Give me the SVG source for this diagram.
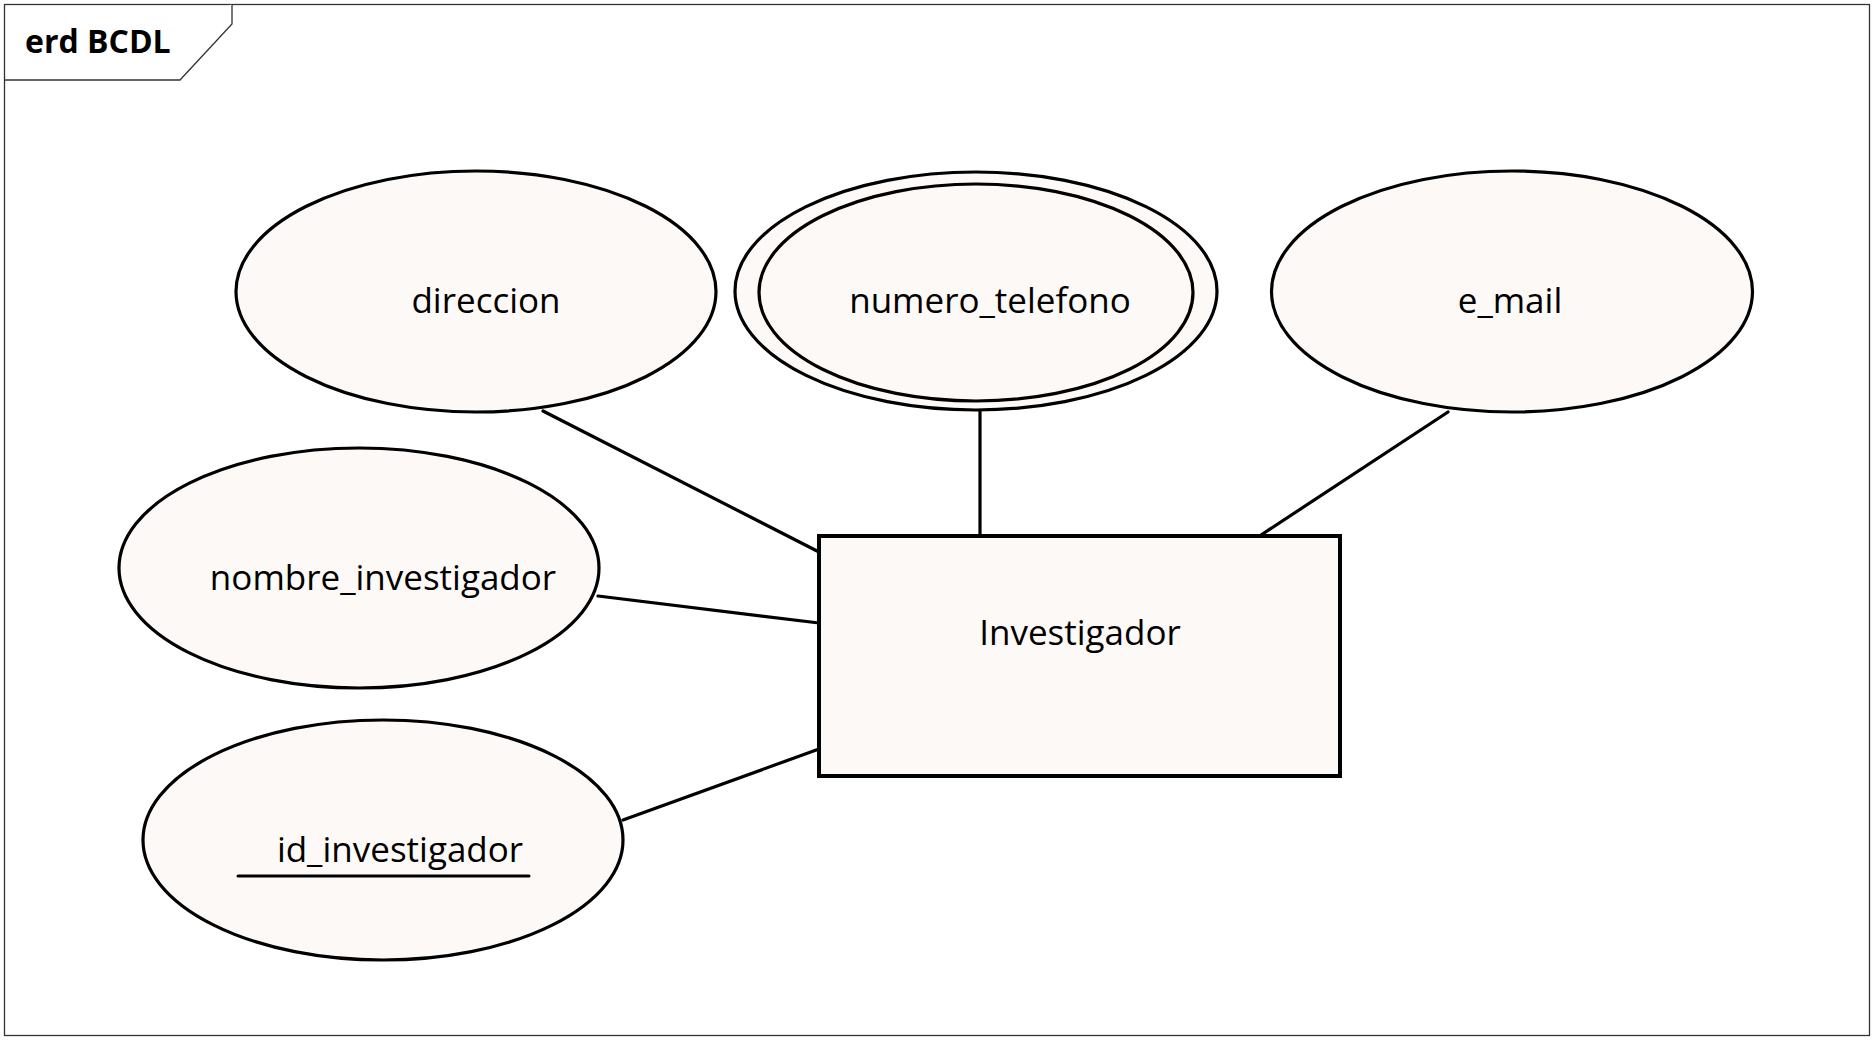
<svg xmlns="http://www.w3.org/2000/svg" width="1872" height="1040" viewBox="0 0 1872 1040">
<style>
.frame{fill:#ffffff;stroke:#333333;stroke-width:1.3}
.attr{fill:#fdf9f6;stroke:#000000;stroke-width:3.2}
.ent{fill:#fdf9f6;stroke:#000000;stroke-width:4}
.lbl{font-family:"Open Sans","Liberation Sans",sans-serif;font-size:35px;fill:#000000;text-anchor:middle}
.title{font-family:"Open Sans","Liberation Sans",sans-serif;font-size:32px;font-weight:bold;fill:#000000}
.conn{stroke:#000000;stroke-width:3.2;fill:none;stroke-linecap:round}
</style>
<rect x="0" y="0" width="1872" height="1040" fill="#ffffff"/>
<g id="frame">
<rect class="frame" x="4.5" y="4.5" width="1865" height="1031"/>
<path class="frame" d="M4.5 80 H180 L232 24 V4.5" fill="none"/>
<text class="title" x="25" y="53">erd BCDL</text>
</g>
<g id="connectors">
<line class="conn" x1="543" y1="411" x2="819" y2="552"/>
<line class="conn" x1="980" y1="410" x2="980" y2="535"/>
<line class="conn" x1="1448" y1="412" x2="1261" y2="535"/>
<line class="conn" x1="598" y1="596" x2="819" y2="623"/>
<line class="conn" x1="623" y1="820" x2="819" y2="749"/>
</g>
<g id="direccion">
<ellipse class="attr" cx="476" cy="291.5" rx="240" ry="120.5"/>
<text class="lbl" x="486" y="313">direccion</text>
</g>
<g id="numero_telefono">
<ellipse class="attr" cx="976" cy="291" rx="241" ry="119"/>
<ellipse class="attr" cx="976" cy="292.5" rx="217" ry="108.5"/>
<text class="lbl" x="990" y="313">numero_telefono</text>
</g>
<g id="e_mail">
<ellipse class="attr" cx="1512" cy="291.5" rx="240.5" ry="120.5"/>
<text class="lbl" x="1510" y="313">e_mail</text>
</g>
<g id="nombre_investigador">
<ellipse class="attr" cx="359" cy="568" rx="240" ry="120"/>
<text class="lbl" x="383" y="590">nombre_investigador</text>
</g>
<g id="id_investigador">
<ellipse class="attr" cx="383" cy="840" rx="240" ry="120"/>
<text class="lbl" x="400" y="862">id_investigador</text>
<line x1="238" y1="876" x2="529" y2="876" stroke="#000" stroke-width="3" stroke-linecap="round"/>
</g>
<g id="Investigador">
<rect class="ent" x="819" y="536" width="521" height="240"/>
<text class="lbl" x="1080" y="645">Investigador</text>
</g>
</svg>
